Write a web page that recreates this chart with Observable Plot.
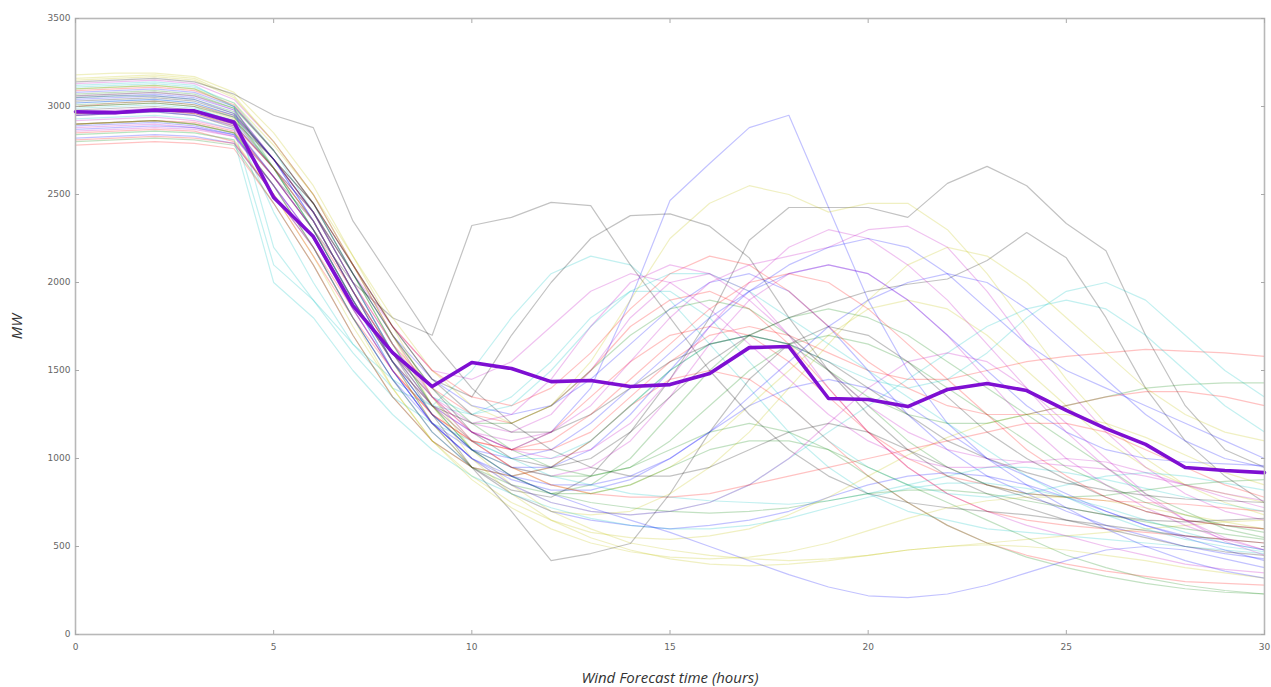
<!DOCTYPE html>
<html><head><meta charset="utf-8">
<script src="https://cdn.jsdelivr.net/npm/d3@7"></script>
<script src="https://cdn.jsdelivr.net/npm/@observablehq/plot@0.6"></script>
<style>
body{margin:0;background:#fff;}
#chart svg{display:block;}
[aria-label="x-axis label"] text,[aria-label="y-axis label"] text{font-style:italic;font-size:15px;fill:#333;font-family:"Open Sans",sans-serif;}
</style></head><body><div id="chart"></div>
<script>
const hours = [0,1,2,3,4,5,6,7,8,9,10,11,12,13,14,15,16,17,18,19,20,21,22,23,24,25,26,27,28,29,30];
const xTicks = [0,5,10,15,20,25,30];
const yTicks = [0,500,1000,1500,2000,2500,3000,3500];
const memberColors = ["#0000ff","#008000","#ff0000","#00bfbf","#bf00bf","#bfbf00","#000000"];
const meanLine = [2970,2965,2980,2975,2910,2483,2261,1869,1602,1409,1545,1511,1437,1443,1409,1420,1483,1630,1636,1341,1335,1295,1392,1426,1386,1273,1170,1080,949,932,920];
const members = [
[3050,3060,3070,3050,2980,2700,2400,2000,1600,1300,1150,1050,1150,1400,1900,2466,2676,2880,2950,2426,1900,1500,1200,1000,900,800,700,620,560,520,480],
[3100,3110,3120,3100,3000,2750,2450,2050,1650,1300,1050,900,800,850,1000,1250,1500,1700,1800,1850,1800,1700,1550,1400,1250,1100,950,800,700,600,550],
[2850,2860,2870,2860,2800,2500,2150,1800,1500,1250,1100,1050,1150,1350,1550,1700,1750,1700,1550,1350,1150,1000,900,850,800,780,760,750,740,720,700],
[3000,3010,3020,3000,2900,2400,2000,1650,1400,1300,1500,1800,2050,2150,2100,1900,1650,1400,1150,950,800,700,650,600,580,560,540,520,500,480,460],
[2950,2960,2980,2970,2920,2650,2350,1950,1600,1350,1200,1150,1250,1500,1800,2000,2050,1950,1700,1400,1150,950,800,700,620,560,500,450,400,370,350],
[3150,3160,3170,3150,3050,2800,2500,2100,1700,1350,1100,950,850,800,850,950,1100,1300,1500,1700,1850,1900,1850,1700,1500,1300,1100,950,850,800,750],
[2900,2910,2920,2900,2850,2600,2350,1950,1550,1200,950,820,780,900,1150,1450,1800,2240,2426,2426,2426,2370,2563,2660,2550,2335,2180,1700,1300,1050,950],
[3080,3090,3100,3080,3000,2750,2450,2050,1700,1450,1300,1250,1300,1450,1650,1850,2000,2050,1950,1750,1500,1250,1050,900,800,700,620,560,500,460,430],
[2800,2810,2820,2810,2780,2450,2100,1700,1350,1100,950,900,950,1100,1300,1500,1650,1700,1650,1500,1300,1100,950,850,800,780,790,820,850,870,880],
[3000,3020,3030,3010,2950,2700,2400,2000,1650,1400,1250,1200,1300,1500,1750,1900,1950,1850,1650,1400,1150,950,800,700,650,620,600,580,560,540,520],
[3120,3130,3140,3120,3000,2200,1900,1600,1350,1200,1100,1000,900,850,800,780,760,750,740,760,800,850,900,950,950,920,880,830,780,740,700],
[2880,2890,2900,2880,2830,2550,2250,1900,1550,1300,1150,1100,1150,1300,1550,1800,2000,2100,2150,2200,2300,2320,2200,1950,1650,1400,1150,950,800,700,650],
[3180,3190,3190,3170,3080,2850,2550,2150,1750,1350,1050,850,700,600,520,480,450,430,420,430,450,480,500,520,540,560,580,600,620,640,650],
[2950,2960,2970,2950,2880,2600,2300,2000,1800,1700,2324,2370,2455,2437,2100,1800,1500,1250,1050,900,800,750,720,700,680,650,620,590,560,540,520],
[2820,2830,2840,2830,2790,2500,2200,1800,1450,1150,950,800,700,650,620,600,620,650,700,780,850,900,920,900,850,780,700,620,550,480,420],
[3050,3060,3060,3040,2970,2700,2400,2050,1700,1400,1200,1050,950,900,950,1100,1300,1500,1650,1700,1650,1550,1400,1250,1100,950,850,750,680,620,580],
[2900,2910,2920,2910,2860,2600,2300,1950,1600,1350,1150,1050,1050,1150,1350,1550,1700,1750,1700,1600,1500,1450,1450,1500,1550,1580,1600,1620,1610,1600,1580],
[3020,3030,3040,3020,2950,2650,2300,1900,1500,1200,1000,850,750,700,680,700,750,850,1000,1150,1300,1450,1600,1750,1850,1900,1850,1700,1500,1300,1150],
[2970,2980,2990,2970,2900,2650,2400,2050,1750,1500,1450,1550,1750,1950,2050,2000,1850,1650,1450,1250,1100,1000,950,950,980,1000,980,920,850,780,720],
[3100,3110,3120,3100,3020,2780,2500,2150,1800,1500,1300,1200,1300,1550,1900,2250,2450,2550,2500,2400,2450,2450,2300,2050,1750,1450,1200,1000,850,750,680],
[3000,3010,3020,3000,2940,2700,2450,2100,1750,1450,1350,1700,2000,2250,2380,2390,2320,2140,1800,1500,1250,1050,900,800,720,650,600,550,500,470,450],
[2870,2880,2890,2880,2840,2550,2200,1800,1450,1200,1050,1000,1050,1200,1400,1600,1800,1950,2050,2100,2050,1900,1700,1500,1300,1150,1050,1000,980,970,960],
[3060,3070,3080,3060,2990,2750,2450,2050,1650,1300,1050,900,800,750,720,700,690,700,720,760,800,820,820,800,760,720,680,640,600,570,540],
[2780,2790,2800,2790,2760,2450,2100,1700,1350,1100,950,900,950,1100,1300,1450,1500,1450,1300,1100,900,750,620,520,450,400,360,330,300,290,280],
[2930,2940,2950,2930,2870,2100,1900,1650,1450,1300,1250,1350,1550,1800,1950,1950,1800,1550,1300,1100,950,850,800,780,800,850,900,920,900,860,820],
[3130,3140,3150,3130,3040,2800,2500,2100,1700,1350,1100,950,900,950,1100,1350,1650,1900,2050,2100,2050,1900,1700,1450,1200,1000,850,720,620,540,480],
[2840,2850,2860,2850,2810,2500,2150,1750,1400,1100,900,750,650,580,550,540,560,600,680,780,900,1020,1120,1200,1250,1250,1200,1120,1020,920,850],
[2960,2970,2980,2960,2900,2650,2400,2050,1700,1400,1150,1000,950,1000,1150,1350,1550,1700,1800,1880,1950,1990,2020,2125,2284,2140,1800,1400,1100,900,750],
[3040,3050,3060,3040,2960,2700,2350,1950,1550,1250,1050,950,950,1050,1250,1500,1750,1950,2100,2200,2250,2200,2050,1850,1650,1500,1400,1300,1200,1100,1000],
[2900,2910,2920,2900,2850,2550,2200,1800,1450,1150,950,850,800,800,850,950,1050,1100,1100,1050,950,850,750,650,550,450,380,320,280,250,230],
[3090,3100,3110,3090,3010,2750,2450,2100,1750,1500,1350,1300,1400,1600,1850,2050,2150,2100,1950,1750,1550,1400,1300,1250,1250,1300,1350,1380,1380,1350,1300],
[2990,3000,3010,2990,2920,2650,2350,1950,1600,1300,1100,1000,1000,1100,1300,1500,1650,1700,1650,1550,1450,1400,1450,1600,1800,1950,2000,1900,1700,1500,1350],
[2860,2870,2880,2870,2830,2550,2250,1850,1500,1200,1000,850,750,700,680,700,750,850,1000,1200,1400,1550,1600,1550,1400,1200,1000,800,650,530,450],
[3160,3170,3180,3160,3060,2800,2500,2100,1700,1300,1000,800,650,550,480,430,400,390,400,420,450,480,500,510,500,480,450,420,380,350,320],
[3030,3040,3050,3030,2960,2700,2400,2000,1600,1250,950,700,420,460,517,800,1150,1450,1650,1750,1700,1550,1350,1150,1000,880,780,700,650,620,600],
[2950,2960,2970,2950,2890,2600,2300,1900,1500,1200,1000,900,850,850,900,1000,1150,1350,1550,1750,1900,2000,2050,2000,1850,1650,1450,1250,1100,1000,950],
[3070,3080,3090,3070,2990,2650,2300,1900,1550,1250,1050,950,900,900,950,1050,1150,1200,1150,1050,900,750,620,520,440,380,330,290,260,240,230],
[2810,2820,2830,2820,2790,2500,2200,1850,1500,1250,1100,1050,1100,1250,1450,1650,1850,2000,2050,2000,1850,1650,1450,1250,1050,900,780,700,650,620,600],
[3110,3120,3130,3110,3020,2750,2400,2000,1600,1350,1250,1300,1500,1750,1950,2050,2050,1950,1800,1650,1500,1350,1200,1050,900,780,680,600,540,500,470],
[2920,2930,2940,2920,2870,2600,2300,1900,1550,1300,1200,1250,1450,1750,2000,2100,2050,1900,1700,1500,1300,1150,1050,1000,980,960,940,900,850,800,760],
[3000,3010,3020,3000,2930,2650,2350,1950,1550,1200,950,800,700,680,700,800,950,1150,1400,1650,1900,2100,2200,2150,2000,1800,1600,1400,1250,1150,1100],
[3140,3150,3160,3140,3070,2950,2880,2350,2010,1670,1400,1200,1050,950,900,900,950,1050,1150,1200,1150,1050,950,850,780,720,680,650,640,650,660],
[2890,2900,2910,2890,2840,2550,2250,1850,1500,1200,1000,880,820,820,880,1000,1150,1300,1400,1450,1400,1300,1150,1000,850,720,600,500,420,360,320],
[3010,3020,3030,3010,2940,2650,2300,1900,1550,1300,1200,1200,1300,1500,1700,1850,1900,1850,1700,1500,1350,1250,1200,1200,1250,1300,1350,1400,1420,1430,1430],
[2960,2970,2980,2960,2890,2650,2350,1950,1600,1300,1100,950,850,800,780,780,800,850,900,950,1000,1050,1100,1150,1200,1200,1150,1050,950,850,780],
[2840,2850,2860,2850,2810,2000,1800,1500,1250,1050,900,800,720,660,620,600,600,620,660,720,780,830,860,860,830,780,720,650,580,520,480],
[3060,3070,3080,3060,2980,2700,2400,2000,1650,1350,1150,1050,1000,1050,1200,1450,1750,2000,2200,2300,2250,2100,1900,1650,1400,1150,950,780,650,550,480],
[2900,2910,2920,2900,2850,2550,2200,1800,1400,1100,880,720,600,520,470,440,430,440,470,520,590,660,720,760,780,780,760,720,680,640,600],
[2980,2990,3000,2980,2920,2700,2450,2100,1750,1450,1250,1150,1150,1250,1400,1550,1650,1700,1650,1550,1400,1250,1100,1000,920,860,820,790,770,760,750],
[3020,3030,3040,3020,2950,2700,2350,1950,1550,1250,1050,900,800,720,650,580,500,420,340,270,220,210,230,280,350,420,480,500,480,430,380]
];

const rows = [];
members.forEach((vals, i) => vals.forEach((v, j) => rows.push({hour: hours[j], mw: v, member: i, color: memberColors[i % memberColors.length]})));
const meanRows = meanLine.map((v, j) => ({hour: hours[j], mw: v}));

const chart = Plot.plot({
  width: 1271, height: 687,
  marginTop: 18, marginBottom: 53, marginLeft: 75, marginRight: 7,
  style: {fontFamily: "DejaVu Sans, sans-serif", fontSize: "9px", color: "#666", background: "#fff", overflow: "visible"},
  x: {domain: [0, 30]},
  y: {domain: [0, 3500]},
  marks: [
    Plot.line(rows, {x: "hour", y: "mw", z: "member", stroke: "color", strokeOpacity: 0.24, strokeWidth: 1.2}),
    Plot.line(meanRows, {x: "hour", y: "mw", stroke: "#7e0fd2", strokeWidth: 3.6}),
    Plot.frame({stroke: "#b8b8b8", strokeWidth: 1.6}),
    Plot.axisX(xTicks, {anchor: "bottom", tickSize: 0, tickPadding: 9, tickFormat: d3.format("d"), label: "Wind Forecast time (hours)", labelAnchor: "center", labelOffset: 48, labelArrow: "none"}),
    Plot.axisX(xTicks, {anchor: "bottom", tickSize: -4, tickFormat: () => "", label: null, stroke: "#aaa"}),
    Plot.axisX(xTicks, {anchor: "top", tickSize: -4, tickFormat: () => "", label: null, stroke: "#aaa"}),
    Plot.axisY(yTicks, {anchor: "left", tickSize: 0, tickPadding: 5, tickFormat: d3.format("d"), label: "MW", labelAnchor: "center", labelOffset: 64, labelArrow: "none"}),
    Plot.axisY(yTicks, {anchor: "left", tickSize: -4, tickFormat: () => "", label: null, stroke: "#aaa"}),
    Plot.axisY(yTicks, {anchor: "right", tickSize: -4, tickFormat: () => "", label: null, stroke: "#aaa"})
  ]
});
document.getElementById("chart").appendChild(chart);
</script></body></html>
